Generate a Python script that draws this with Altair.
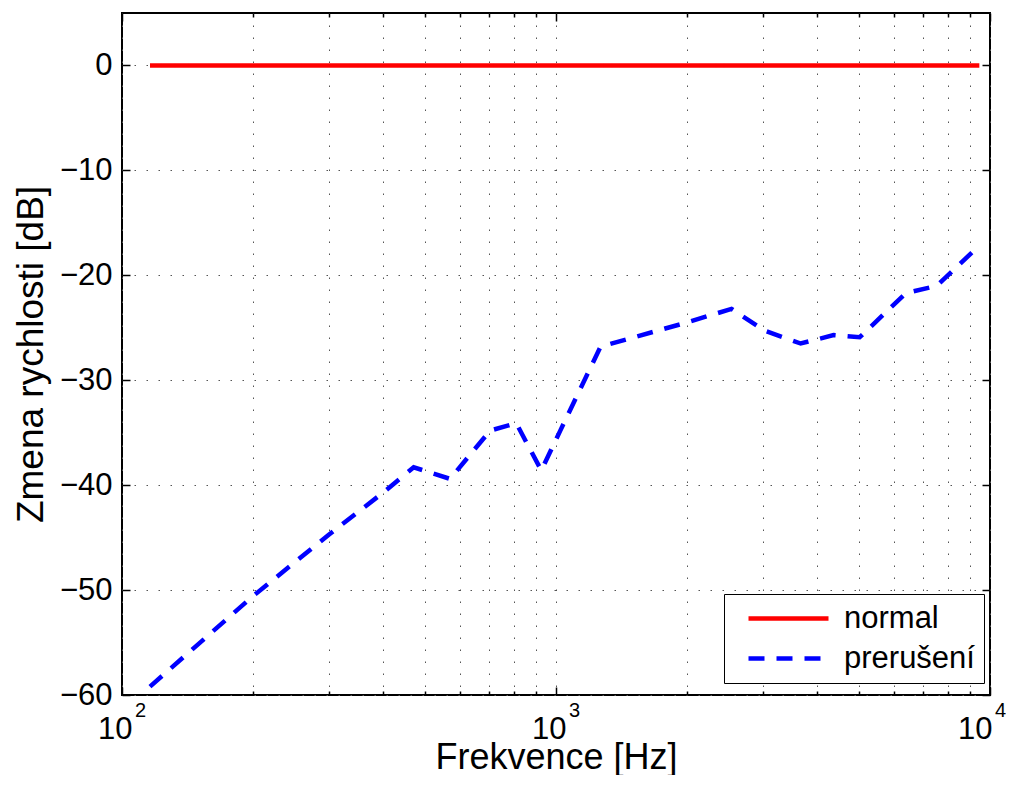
import altair as alt
import pandas as pd

# ---- data ----
series_names = ["normal", "prerušení"]
freq_normal = [116, 9450]
gain_normal = [0, 0]
freq_prer = [116, 200, 300, 400, 470, 570, 705, 810, 925, 1023, 1267, 2000,
             2537, 3033, 3662, 4361, 5008, 6403, 7540, 9484]
gain_prer = [-59.2, -50.6, -44.7, -40.7, -38.3, -39.4, -34.8, -34.1, -38.6, -34.8,
             -26.8, -24.5, -23.2, -25.3, -26.5, -25.7, -25.9, -21.7, -21.0, -17.1]

x_major = [100, 1000, 10000]
x_minor = [200, 300, 400, 500, 600, 700, 800, 900,
           2000, 3000, 4000, 5000, 6000, 7000, 8000, 9000]
x_exp = ["2", "3", "4"]
y_ticks = [-60, -50, -40, -30, -20, -10, 0]

df = pd.DataFrame({
    "f": freq_normal + freq_prer,
    "v": gain_normal + gain_prer,
    "s": [series_names[0]] * len(freq_normal) + [series_names[1]] * len(freq_prer),
})
df_exp_a = pd.DataFrame({"f": x_major[:2], "e": x_exp[:2]})
df_exp_b = pd.DataFrame({"f": x_major[2:], "e": x_exp[2:]})

FONT = "Liberation Sans"
W, H = 868, 682
xscale = alt.Scale(type="log", domain=[100, 10000], nice=False)
yscale = alt.Scale(domain=[-60, 5], nice=False, zero=False)
GRID = dict(grid=True, gridColor="#555555", gridDash=[1.5, 10.5], gridWidth=1, gridOpacity=1)

# legend symbol: horizontal line 80px long (path scaled by sqrt(size)/2 = 10)
leg = alt.Legend(title=None, orient="none", legendX=602, legendY=581,
                 strokeColor="black", fillColor="white", padding=9,
                 symbolType="M0,0H8", symbolSize=400, symbolStrokeWidth=4.5,
                 labelFont=FONT, labelFontSize=31, labelColor="black",
                 labelOffset=80, rowPadding=8, labelLimit=400)

label_expr = "(datum.value == 100 || datum.value == 1000 || datum.value == 10000) ? '10' : ''"

lines = alt.Chart(df).mark_line(strokeWidth=4.5).encode(
    x=alt.X("f:Q", scale=xscale, axis=alt.Axis(
        orient="bottom", values=x_major + x_minor, labelExpr=label_expr,
        ticks=False, domain=False, labelFont=FONT, labelFontSize=31, labelColor="black",
        labelAlign="right",
        labelOffset={"condition": {"test": "datum.value == 10000", "value": 2}, "value": 10},
        labelPadding=19, labelFlush=False,
        labelOverlap=False, title="Frekvence [Hz]", titleFont=FONT, titleFontSize=36,
        titleFontWeight="normal", titleColor="black", titleBaseline="alphabetic",
        titleX=W / 2, titleY=73, **GRID)),
    y=alt.Y("v:Q", scale=yscale, axis=alt.Axis(
        orient="left", values=y_ticks, ticks=False, domain=False, labelFont=FONT,
        labelFontSize=31, labelColor="black", labelPadding=10, labelFlush=False,
        labelOverlap=False, title="Zmena rychlosti [dB]", titleFont=FONT,
        titleFontSize=37, titleFontWeight="normal", titleColor="black",
        titleBaseline="alphabetic", titleAngle=-90, titleX=-80, titleY=H / 2, **GRID)),
    color=alt.Color("s:N", scale=alt.Scale(domain=series_names, range=["#ff0000", "#0000ff"]),
                    legend=leg),
    strokeDash=alt.StrokeDash("s:N", scale=alt.Scale(domain=series_names,
                                                      range=[[1, 0], [16, 12]]), legend=leg),
)


def tick_axis(orient, values, size):
    return alt.Axis(orient=orient, values=values, offset=-size, tickSize=size,
                    tickColor="black", tickWidth=1.5, labels=False, domain=False,
                    grid=False, title=None)


def tick_layer(xaxis, yaxis):
    return alt.Chart(df).mark_point(opacity=0).encode(
        x=alt.X("f:Q", scale=xscale, axis=xaxis),
        y=alt.Y("v:Q", scale=yscale, axis=yaxis),
    )


t1 = tick_layer(tick_axis("bottom", x_major, 8), tick_axis("left", y_ticks, 8))
t2 = tick_layer(tick_axis("bottom", x_minor, 4), tick_axis("right", y_ticks, 8))
t3 = tick_layer(tick_axis("top", x_major, 8), None)
t4 = tick_layer(tick_axis("top", x_minor, 4), None)


def exp_layer(data, dx):
    return alt.Chart(data).mark_text(dx=dx, dy=22, align="left", baseline="alphabetic",
                                     font=FONT, fontSize=20, color="black").encode(
        x=alt.X("f:Q", scale=xscale, axis=None),
        y=alt.Y(datum=-60, scale=yscale, axis=None),
        text="e:N",
    )


exps_a = exp_layer(df_exp_a, 13)
exps_b = exp_layer(df_exp_b, 5)

chart = alt.layer(lines, t1, t2, t3, t4, exps_a, exps_b).resolve_axis(
    x="independent", y="independent"
).properties(
    width=W, height=H,
    autosize=alt.AutoSizeParams(type="none"),
    padding={"left": 114, "top": 5, "right": 16, "bottom": 80},
).configure_view(stroke="black", strokeWidth=2)

chart.save("out.html", embed_options={"renderer": "svg", "actions": False})
